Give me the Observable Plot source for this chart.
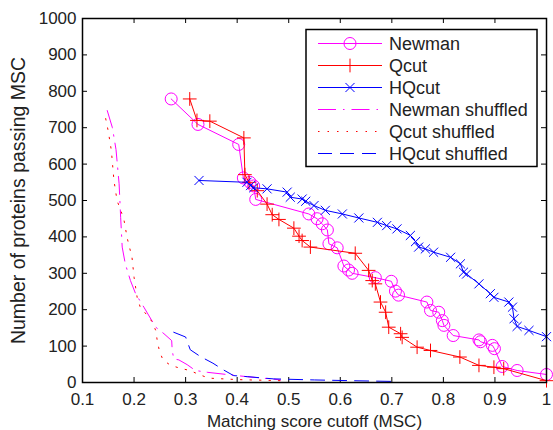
<!DOCTYPE html>
<html><head><meta charset="utf-8">
<script src="https://cdn.jsdelivr.net/npm/d3@7"></script>
<script src="https://cdn.jsdelivr.net/npm/@observablehq/plot@0.6"></script>
<style>
body{margin:0;background:#fff}
#wrap{position:relative;width:553px;height:430px}
svg{font-family:"Liberation Sans",Arial,Helvetica,sans-serif}
#legend{position:absolute;left:0;top:0}
</style>
</head><body><div id="wrap"></div>
<script>
// ---- data ----
const newmanX = [0.272,0.324,0.403,0.412,0.425,0.432,0.436,0.539,0.555,0.565,0.575,0.578,0.594,0.607,0.616,0.623,0.668,0.699,0.707,0.713,0.768,0.775,0.791,0.798,0.801,0.819,0.869,0.872,0.895,0.899,0.914,0.943,1.0];
const newmanY = [779,709,654,562,550,540,503,463,450,436,419,381,370,320,309,300,288,278,251,240,221,198,193,170,157,129,117,112,102,93,44,33,22];
const qcutX = [0.308,0.322,0.347,0.413,0.415,0.423,0.439,0.458,0.468,0.481,0.510,0.520,0.526,0.542,0.629,0.655,0.662,0.668,0.678,0.688,0.694,0.717,0.720,0.749,0.775,0.832,0.869,0.898,0.917,1.0];
const qcutY = [779,720,718,672,571,550,527,490,461,448,424,402,390,372,355,308,280,271,221,193,152,134,124,97,88,70,47,42,38,5];
const hqcutX = [0.326,0.419,0.426,0.432,0.458,0.497,0.503,0.526,0.533,0.549,0.571,0.604,0.636,0.672,0.690,0.710,0.736,0.746,0.752,0.765,0.781,0.814,0.833,0.839,0.845,0.869,0.891,0.898,0.927,0.934,0.937,0.943,0.966,1.0];
const hqcutY = [555,550,541,535,532,523,509,504,498,486,473,463,452,440,431,422,404,387,372,367,358,344,326,303,298,271,244,234,221,207,175,154,143,126];
const newmanShufX = [0.148,0.158,0.165,0.171,0.174,0.177,0.183,0.193,0.203,0.219,0.242,0.258,0.273,0.274,0.277,0.287,0.303,0.319,0.342,0.380,0.419,0.450,0.484];
const newmanShufY = [747,700,640,546,454,372,326,280,244,207,152,134,115,88,65,62,49,33,28,22,16,12,7];
const qcutShufX = [0.145,0.150,0.156,0.161,0.167,0.180,0.187,0.196,0.200,0.206,0.212,0.224,0.235,0.242,0.245,0.249,0.256,0.271,0.290,0.308,0.326,0.345,0.400,0.484];
const qcutShufY = [725,690,637,555,500,450,395,344,289,234,207,187,167,143,115,88,62,47,39,33,22,12,8,5];
const hqcutShufX = [0.277,0.300,0.309,0.329,0.353,0.373,0.393,0.420,0.470,0.550,0.620,0.700];
const hqcutShufY = [138,125,90,71,53,35,19,16,10,7,5,3];

const xTicks = [0.1,0.2,0.3,0.4,0.5,0.6,0.7,0.8,0.9,1];
const xTickLabels = ["0.1","0.2","0.3","0.4","0.5","0.6","0.7","0.8","0.9","1"];
const yTicks = [0,100,200,300,400,500,600,700,800,900,1000];
const yTickLabels = ["0","100","200","300","400","500","600","700","800","900","1000"];

const seriesNames = ["Newman","Qcut","HQcut","Newman shuffled","Qcut shuffled","HQcut shuffled"];
const seriesColors = ["#ff00ff","#ff0000","#0000ff","#ff00ff","#ff0000","#0000ff"];

const xLabel = "Matching score cutoff (MSC)";
const yLabel = "Number of proteins passing MSC";

// ---- build ----
const W = 553, H = 430;
const mL = 82, mR = 7, mT = 18, mB = 48;
const innerW = W - mL - mR, innerH = H - mT - mB;
const tick = 5;

const zip = (xs, ys) => xs.map((x, i) => ({x, y: ys[i]}));
const newman = zip(newmanX, newmanY);
const qcut = zip(qcutX, qcutY);
const hqcut = zip(hqcutX, hqcutY);
const newmanShuf = zip(newmanShufX, newmanShufY);
const qcutShuf = zip(qcutShufX, qcutShufY);
const hqcutShuf = zip(hqcutShufX, hqcutShufY);

const dashes = {newman: "18,7,1.5,7", qcut: "1.5,8", hqcut: "14,8"};
const markR = {circle: 6, plus: 4.5, times: 4.2};

const chart = Plot.plot({
  width: W, height: H,
  marginLeft: mL, marginRight: mR, marginTop: mT, marginBottom: mB,
  style: {fontSize: "17px", fontFamily: "'Liberation Sans', Arial, sans-serif", color: "#222", background: "#fff"},
  x: {domain: [0.1, 1]},
  y: {domain: [0, 1000]},
  marks: [
    Plot.axisX({ticks: xTicks, tickSize: 0, tickPadding: 10, tickFormat: d => xTickLabels[xTicks.indexOf(d)],
      label: xLabel, labelAnchor: "center", labelArrow: "none", labelOffset: 44}),
    Plot.axisY({ticks: yTicks, tickSize: 0, tickPadding: 6, tickFormat: d => yTickLabels[yTicks.indexOf(d)],
      label: null}),
    Plot.text([yLabel], {text: d => d, frameAnchor: "left", textAnchor: "middle", rotate: -90, dx: -64, fontSize: 19.5, fill: "#222"}),
    // inward ticks on all four sides
    Plot.tickX(xTicks, {x: d => d, stroke: "black", insetTop: innerH - tick}),
    Plot.tickX(xTicks, {x: d => d, stroke: "black", insetBottom: innerH - tick}),
    Plot.tickY(yTicks, {y: d => d, stroke: "black", insetRight: innerW - tick}),
    Plot.tickY(yTicks, {y: d => d, stroke: "black", insetLeft: innerW - tick}),
    // shuffled
    Plot.line(newmanShuf, {x: "x", y: "y", stroke: seriesColors[3], strokeWidth: 1, strokeDasharray: dashes.newman}),
    Plot.line(qcutShuf, {x: "x", y: "y", stroke: seriesColors[4], strokeWidth: 1, strokeDasharray: dashes.qcut}),
    Plot.line(hqcutShuf, {x: "x", y: "y", stroke: seriesColors[5], strokeWidth: 1, strokeDasharray: dashes.hqcut}),
    // main series
    Plot.line(newman, {x: "x", y: "y", stroke: seriesColors[0], strokeWidth: 1}),
    Plot.dot(newman, {x: "x", y: "y", stroke: seriesColors[0], r: markR.circle, strokeWidth: 1}),
    Plot.line(qcut, {x: "x", y: "y", stroke: seriesColors[1], strokeWidth: 1}),
    Plot.dot(qcut, {x: "x", y: "y", stroke: seriesColors[1], symbol: "plus", r: markR.plus, strokeWidth: 1}),
    Plot.line(hqcut, {x: "x", y: "y", stroke: seriesColors[2], strokeWidth: 1}),
    Plot.dot(hqcut, {x: "x", y: "y", stroke: seriesColors[2], symbol: "times", r: markR.times, strokeWidth: 1}),
    Plot.frame({stroke: "black", strokeWidth: 1.5})
  ]
});
const wrap = document.getElementById("wrap");
wrap.appendChild(chart);

// ---- legend (inside the axes, top right) ----
const lg = d3.select(wrap).append("svg").attr("id", "legend").attr("width", W).attr("height", H);
const box = {x: 306, y: 29.5, w: 231, h: 137};
lg.append("rect").attr("x", box.x).attr("y", box.y).attr("width", box.w).attr("height", box.h)
  .attr("fill", "#fff").attr("stroke", "black").attr("stroke-width", 1.5);
const rowY0 = 43.5, rowDy = 22;
const lineX1 = 318, lineX2 = 382, textX = 389;
const symbols = [d3.symbolCircle, d3.symbolPlus, d3.symbolTimes, null, null, null];
const symR = [markR.circle, markR.plus, markR.times];
const dashList = [null, null, null, dashes.newman, dashes.qcut, dashes.hqcut];
seriesNames.forEach((name, i) => {
  const y = rowY0 + i * rowDy;
  const ln = lg.append("line").attr("x1", lineX1).attr("x2", lineX2).attr("y1", y).attr("y2", y)
    .attr("stroke", seriesColors[i]).attr("stroke-width", 1);
  if (dashList[i]) ln.attr("stroke-dasharray", dashList[i]);
  if (symbols[i]) {
    lg.append("path").attr("transform", `translate(${(lineX1 + lineX2) / 2},${y})`)
      .attr("d", d3.symbol(symbols[i], Math.PI * symR[i] * symR[i])())
      .attr("fill", "none").attr("stroke", seriesColors[i]).attr("stroke-width", 1);
  }
  lg.append("text").attr("x", textX).attr("y", y).attr("dy", "0.35em")
    .attr("font-size", 18).attr("fill", "#222").text(name);
});
</script>
</body></html>
